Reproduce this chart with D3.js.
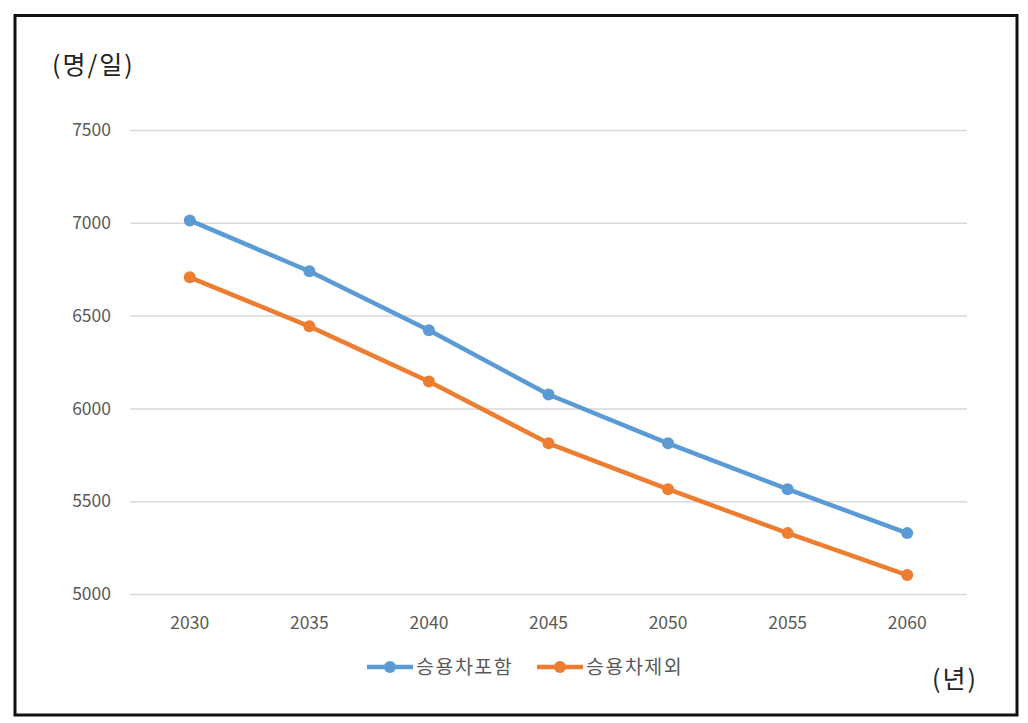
<!DOCTYPE html>
<html>
<head>
<meta charset="utf-8">
<script src="https://cdn.jsdelivr.net/npm/d3@7"></script>
<style>
  html, body { margin: 0; padding: 0; background: #fff; }
  svg { display: block; }
  text { font-family: "Noto Sans CJK KR", "Noto Sans", sans-serif; }
</style>
</head>
<body>
<svg id="chart" width="1028" height="723"></svg>
<script>
const categories = ["2030", "2035", "2040", "2045", "2050", "2055", "2060"];
const seriesNames = ["승용차포함", "승용차제외"];
const seriesColors = ["#5B9BD5", "#ED7D31"];
const withCars = [7013, 6739, 6421, 6075, 5812, 5565, 5328];
const withoutCars = [6706, 6442, 6145, 5812, 5565, 5328, 5102];
const yTicks = [5000, 5500, 6000, 6500, 7000, 7500];
const yUnit = "(명/일)";
const xUnit = "(년)";

const svg = d3.select("#chart");
const numFont = "'Open Sans', 'Noto Sans', sans-serif";

// frame
svg.append("rect")
  .attr("x", 15).attr("y", 15.5)
  .attr("width", 1002).attr("height", 699.5)
  .attr("fill", "#fff").attr("stroke", "#111").attr("stroke-width", 3);

const plot = { left: 130, right: 967, top: 130, bottom: 594 };

const x = d3.scaleBand().domain(categories).range([plot.left, plot.right]);
const y = d3.scaleLinear().domain([5000, 7500]).range([plot.bottom, plot.top]);

// gridlines + y labels
const yAxis = d3.axisLeft(y).tickValues(yTicks).tickSize(-(plot.right - plot.left)).tickPadding(19).tickFormat(d3.format("d"));
const gy = svg.append("g").attr("transform", `translate(${plot.left},0)`).call(yAxis);
gy.select(".domain").remove();
gy.selectAll(".tick line").attr("stroke", "#d9d9d9").attr("stroke-width", 1.5);
gy.selectAll(".tick text").attr("fill", "#595959").style("font-size", "17.5px").attr("font-family", numFont);

const xAxis = d3.axisBottom(x).tickSize(0).tickPadding(23);
const gx = svg.append("g").attr("transform", `translate(0,${plot.bottom})`).call(xAxis);
gx.select(".domain").remove();
gx.selectAll(".tick text").attr("fill", "#595959").style("font-size", "17.5px").attr("font-family", numFont);

const cx = d => x(d) + x.bandwidth() / 2;
const series = [withCars, withoutCars];
const line = d3.line().x((d, i) => cx(categories[i])).y(d => y(d));

series.forEach((vals, si) => {
  svg.append("path").datum(vals)
    .attr("d", line)
    .attr("fill", "none")
    .attr("stroke", seriesColors[si])
    .attr("stroke-width", 4.5)
    .attr("stroke-linejoin", "round");
  svg.append("g").selectAll("circle").data(vals).join("circle")
    .attr("cx", (d, i) => cx(categories[i]))
    .attr("cy", d => y(d))
    .attr("r", 6)
    .attr("fill", seriesColors[si]);
});

// unit labels
svg.append("text").attr("x", 52).attr("y", 74).attr("fill", "#222").style("font-size", "25px").style("letter-spacing", "2px").text(yUnit);
svg.append("text").attr("x", 932).attr("y", 688).attr("fill", "#222").style("font-size", "25px").style("letter-spacing", "2px").text(xUnit);

// legend
const legendX = [367, 537];
seriesNames.forEach((name, i) => {
  const g = svg.append("g").attr("transform", `translate(${legendX[i]},667)`);
  g.append("line").attr("x1", 0).attr("x2", 46).attr("y1", 0).attr("y2", 0)
    .attr("stroke", seriesColors[i]).attr("stroke-width", 4.5);
  g.append("circle").attr("cx", 23).attr("cy", 0).attr("r", 6).attr("fill", seriesColors[i]);
  g.append("text").attr("x", 49).attr("y", 7).attr("fill", "#595959").style("font-size", "19.5px").style("letter-spacing", "1.5px").text(name);
});
</script>
</body>
</html>
